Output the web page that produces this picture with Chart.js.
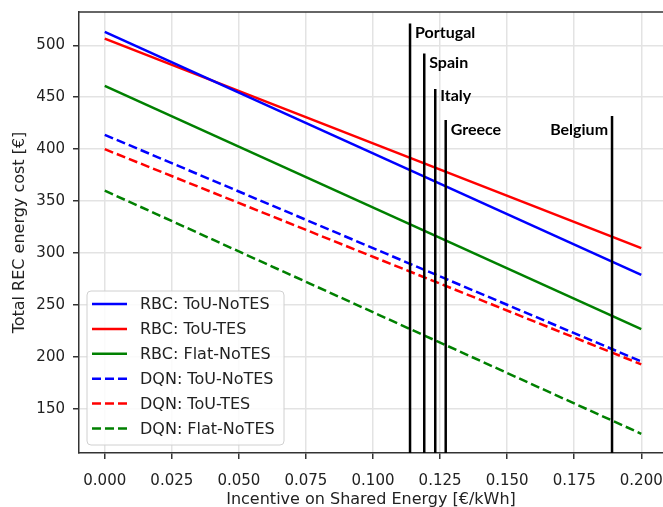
<!DOCTYPE html>
<html>
<head>
<meta charset="utf-8">
<script src="https://cdn.jsdelivr.net/npm/chart.js@4.4.0/dist/chart.umd.min.js"></script>
<style>
  html, body { margin: 0; padding: 0; background: #fff; overflow: hidden; }
</style>
</head>
<body>
<canvas id="myChart" width="663" height="507"></canvas>
<script>
// ***** Data *****
const incentive = [0, 0.2];
const rbcTouNoTes = [512.8, 279.0];
const rbcTouTes = [506.4, 304.8];
const rbcFlatNoTes = [460.9, 226.9];
const dqnTouNoTes = [413.8, 195.8];
const dqnTouTes = [400.0, 193.0];
const dqnFlatNoTes = [360.1, 126.2];

const seriesLabels = ['RBC: ToU-NoTES', 'RBC: ToU-TES', 'RBC: Flat-NoTES',
  'DQN: ToU-NoTES', 'DQN: ToU-TES', 'DQN: Flat-NoTES'];
const seriesValues = [rbcTouNoTes, rbcTouTes, rbcFlatNoTes, dqnTouNoTes, dqnTouTes, dqnFlatNoTes];

const countries = ['Portugal', 'Spain', 'Italy', 'Greece', 'Belgium'];
const countryIncentive = [0.1138, 0.1191, 0.1232, 0.1271, 0.1891];
const countryTop = [521, 492, 458, 428, 432];
const countryLabelY = [512, 483, 451, 419, 419];

const xTicks = [0, 0.025, 0.05, 0.075, 0.1, 0.125, 0.15, 0.175, 0.2];
const yTicks = [150, 200, 250, 300, 350, 400, 450, 500];
const xMin = -0.0096;
const xMax = 0.2081;
const yMin = 107.7;
const yMax = 532;

// ***** Styles *****
const colors = ['#0000ff', '#ff0000', '#008000', '#0000ff', '#ff0000', '#008000'];
const dashes = [[], [], [], [9, 4], [9, 4], [9, 4]];
const axisFont = { family: 'DejaVu Sans', size: 15 };
const titleFont = { family: 'DejaVu Sans', size: 16 };

const seriesSets = seriesValues.map((vals, i) => ({
  label: seriesLabels[i],
  data: incentive.map((x, k) => ({ x: x, y: vals[k] })),
  showLine: true,
  borderColor: colors[i],
  backgroundColor: colors[i],
  borderWidth: 2.5,
  borderDash: dashes[i],
  pointRadius: 0,
  order: 1
}));

const countrySets = countries.map((c, i) => ({
  label: c,
  data: [{ x: countryIncentive[i], y: yMin }, { x: countryIncentive[i], y: countryTop[i] }],
  showLine: true,
  borderColor: '#000',
  borderWidth: 2.5,
  pointRadius: 0,
  order: 0
}));

// fixed axis boxes, no automatic label padding
const fixBox = (size, key) => (s) => {
  s[key] = size;
  s.paddingTop = 0; s.paddingBottom = 0; s.paddingLeft = 0; s.paddingRight = 0;
};

// frame top, legend and country labels
const extras = {
  id: 'extras',
  afterDraw(chart) {
    const { ctx, chartArea, scales } = chart;
    ctx.save();
    ctx.strokeStyle = '#333';
    ctx.lineWidth = 1.5;
    ctx.beginPath();
    ctx.moveTo(chartArea.left, chartArea.top);
    ctx.lineTo(chartArea.right, chartArea.top);
    ctx.stroke();

    // country labels
    ctx.font = 'bold 16px Lato';
    ctx.fillStyle = '#000';
    ctx.textBaseline = 'middle';
    countries.forEach((c, i) => {
      const px = scales.x.getPixelForValue(countryIncentive[i]);
      const py = scales.y.getPixelForValue(countryLabelY[i]);
      if (c === 'Belgium') {
        ctx.textAlign = 'right';
        ctx.fillText(c, px - 4, py);
      } else {
        ctx.textAlign = 'left';
        ctx.fillText(c, px + 5, py);
      }
    });

    // legend
    const bx = chartArea.left + 8, by = 291, bw = 197, bh = 154;
    ctx.beginPath();
    ctx.roundRect(bx, by, bw, bh, 4);
    ctx.fillStyle = 'rgba(255,255,255,0.85)';
    ctx.fill();
    ctx.strokeStyle = '#d0d0d0';
    ctx.lineWidth = 1;
    ctx.stroke();
    ctx.font = '16px "DejaVu Sans"';
    ctx.textAlign = 'left';
    seriesLabels.forEach((lab, i) => {
      const ly = by + 13 + i * 24.9;
      ctx.beginPath();
      ctx.setLineDash(dashes[i]);
      ctx.strokeStyle = colors[i];
      ctx.lineWidth = 2.5;
      ctx.moveTo(bx + 5, ly);
      ctx.lineTo(bx + 40, ly);
      ctx.stroke();
      ctx.setLineDash([]);
      ctx.fillStyle = '#222';
      ctx.fillText(lab, bx + 53, ly + 1);
    });
    ctx.restore();
  }
};

const chart = new Chart(document.getElementById('myChart'), {
  type: 'scatter',
  data: { datasets: [...seriesSets, ...countrySets] },
  options: {
    responsive: false,
    animation: false,
    layout: { padding: { top: 12, right: 0, left: 0, bottom: 0 } },
    plugins: { legend: { display: false }, tooltip: { enabled: false } },
    scales: {
      x: {
        type: 'linear',
        min: xMin,
        max: xMax,
        afterBuildTicks: (s) => { s.ticks = xTicks.map(v => ({ value: v })); },
        afterFit: fixBox(54, 'height'),
        ticks: { font: axisFont, color: '#222', padding: 13, maxRotation: 0,
          callback: (v) => Number(v).toFixed(3) },
        grid: { color: '#e3e3e3', lineWidth: 1.5, tickColor: '#333', tickLength: 6, tickWidth: 1.5 },
        border: { color: '#333', width: 1.5 },
        title: { display: true, text: 'Incentive on Shared Energy [€/kWh]', font: titleFont,
          color: '#222', padding: { top: 0, bottom: -2 } }
      },
      y: {
        type: 'linear',
        min: yMin,
        max: yMax,
        afterBuildTicks: (s) => { s.ticks = yTicks.map(v => ({ value: v })); },
        afterFit: fixBox(79, 'width'),
        ticks: { font: axisFont, color: '#222', padding: 8 },
        grid: { color: '#e3e3e3', lineWidth: 1.5, tickColor: '#333', tickLength: 6, tickWidth: 1.5 },
        border: { color: '#333', width: 1.5 },
        title: { display: true, text: 'Total REC energy cost [€]', font: titleFont,
          color: '#222', padding: { top: 10, bottom: 0 } }
      }
    }
  },
  plugins: [extras]
});
</script>
</body>
</html>
